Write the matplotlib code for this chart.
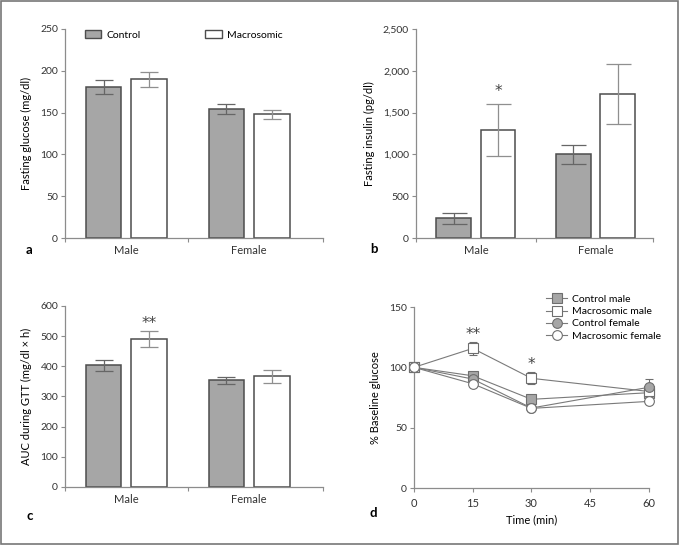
import matplotlib
matplotlib.use("Agg")
import matplotlib.pyplot as plt
from matplotlib.patches import Patch, Rectangle
from matplotlib.lines import Line2D

plt.rcParams["font.family"] = ["Lato", "DejaVu Sans"]
plt.rcParams["font.size"] = 7.5

# ---- data ----
groups = ["Male", "Female"]

glucose_ctrl = [181, 154]
glucose_ctrl_err = [8.5, 6]
glucose_macro = [190, 148]
glucose_macro_err = [9, 5.5]

insulin_ctrl = [235, 1000]
insulin_ctrl_err = [70, 115]
insulin_macro = [1290, 1720]
insulin_macro_err = [310, 360]

auc_ctrl = [403, 353]
auc_ctrl_err = [18, 11]
auc_macro = [490, 367]
auc_macro_err = [26, 22]

time_min = [0, 15, 30, 60]
ctrl_male = [100, 93, 73.5, 79]
ctrl_male_err = [1, 2, 2, 2]
macro_male = [100, 115.7, 90.9, 80]
macro_male_err = [1, 5.5, 5, 3]
ctrl_female = [100, 90.3, 66.3, 83.5]
ctrl_female_err = [1, 2, 2.5, 6.5]
macro_female = [100, 86.4, 66, 71.8]
macro_female_err = [1, 1.5, 2, 1.5]

GRAY = "#a6a6a6"
EDGE = "#4d4d4d"
AXC = "#8c8c8c"
LINE = "#7a7a7a"
LABEL_SIZE = 8
STAR = dict(ha="center", va="bottom", fontsize=11, color="#444444", family="DejaVu Sans")


def style_axes(ax):
    for s in ("top", "right"):
        ax.spines[s].set_visible(False)
    for s in ("left", "bottom"):
        ax.spines[s].set_color(AXC)
        ax.spines[s].set_linewidth(0.9)
    ax.tick_params(axis="both", which="both", direction="out", color=AXC,
                   length=3, width=0.8, labelcolor="#333333", pad=2, labelsize=7.5)


def bar_panel(ax, ctrl, ctrl_err, macro, macro_err, xmax, capsize):
    x = range(len(groups))
    off, w = 0.185, 0.29
    xc = [i - off for i in x]
    xm = [i + off for i in x]
    ax.bar(xc, ctrl, width=w, color=GRAY, edgecolor=EDGE, linewidth=1.1, zorder=2)
    ax.bar(xm, macro, width=w, color="white", edgecolor=EDGE, linewidth=1.1, zorder=2)
    ax.errorbar(xc, ctrl, yerr=ctrl_err, fmt="none", ecolor="#666666",
                elinewidth=0.9, capsize=capsize, capthick=0.9, zorder=3)
    ax.errorbar(xm, macro, yerr=macro_err, fmt="none", ecolor="#8f8f8f",
                elinewidth=0.9, capsize=capsize, capthick=0.9, zorder=3)
    ax.set_xlim(-0.5, xmax)
    ax.set_xticks(list(x))
    ax.set_xticklabels(groups)
    ax.set_xticks([-0.5, 0.5, xmax], minor=True)
    style_axes(ax)
    ax.tick_params(axis="x", which="major", length=0, pad=5, labelsize=8)


fig = plt.figure(figsize=(6.8, 5.46), dpi=100)

# a
ax_a = fig.add_axes([0.0956, 0.5641, 0.379, 0.3828])
bar_panel(ax_a, glucose_ctrl, glucose_ctrl_err, glucose_macro, glucose_macro_err, 1.6, 6.5)
ax_a.set_ylim(0, 250)
ax_a.set_yticks(range(0, 251, 50))
ax_a.set_ylabel("Fasting glucose (mg/dl)", labelpad=6, fontsize=LABEL_SIZE)
handles = [Patch(facecolor=GRAY, edgecolor=EDGE, linewidth=1.0, label="Control"),
           Patch(facecolor="white", edgecolor=EDGE, linewidth=1.0, label="Macrosomic")]
ax_a.legend(handles=handles, ncol=2, loc="upper left", bbox_to_anchor=(0.04, 1.04),
            frameon=False, columnspacing=6.2, handlelength=1.6, handleheight=0.8,
            handletextpad=0.5, fontsize=7.5)
fig.text(26 / 680, 1 - 250 / 546, "a", fontsize=9.5, fontweight="bold", va="center")

# b
ax_b = fig.add_axes([0.6118, 0.5641, 0.3485, 0.3828])
bar_panel(ax_b, insulin_ctrl, insulin_ctrl_err, insulin_macro, insulin_macro_err, 1.48, 9)
ax_b.set_ylim(0, 2500)
ax_b.set_yticks(range(0, 2501, 500))
ax_b.set_yticklabels([f"{v:,}" for v in range(0, 2501, 500)])
ax_b.set_ylabel("Fasting insulin (pg/dl)", labelpad=6, fontsize=LABEL_SIZE)
ax_b.text(0.185, 1660, "*", **STAR)
fig.text(370 / 680, 1 - 249 / 546, "b", fontsize=9.5, fontweight="bold", va="center")

# c
ax_c = fig.add_axes([0.0956, 0.1081, 0.379, 0.3315])
bar_panel(ax_c, auc_ctrl, auc_ctrl_err, auc_macro, auc_macro_err, 1.6, 6.5)
ax_c.set_ylim(0, 600)
ax_c.set_yticks(range(0, 601, 100))
ax_c.set_ylabel("AUC during GTT (mg/dl × h)", labelpad=6, fontsize=LABEL_SIZE)
ax_c.text(0.185, 518, "**", **STAR)
fig.text(26 / 680, 1 - 516 / 546, "c", fontsize=9.5, fontweight="bold", va="center")

# d
ax_d = fig.add_axes([0.6088, 0.1062, 0.3456, 0.3315])
series = [
    (ctrl_male, ctrl_male_err, "s", GRAY, "Control male"),
    (macro_male, macro_male_err, "s", "white", "Macrosomic male"),
    (ctrl_female, ctrl_female_err, "o", GRAY, "Control female"),
    (macro_female, macro_female_err, "o", "white", "Macrosomic female"),
]
for vals, errs, mk, fc, lab in series:
    ax_d.errorbar(time_min, vals, yerr=errs, color=LINE, linewidth=0.8,
                  marker=mk, markersize=7, markerfacecolor=fc, markeredgecolor="#6e6e6e",
                  markeredgewidth=0.8, ecolor="#6e6e6e", elinewidth=0.8, capsize=3,
                  capthick=0.8, label=lab, clip_on=False, zorder=3)
ax_d.set_xlim(0, 60)
ax_d.set_ylim(0, 150)
ax_d.set_xticks([0, 15, 30, 45, 60])
ax_d.set_yticks([0, 50, 100, 150])
style_axes(ax_d)
ax_d.tick_params(axis="x", labelsize=8, pad=4)
ax_d.set_xlabel("Time (min)", labelpad=4, fontsize=LABEL_SIZE)
ax_d.set_ylabel("% Baseline glucose", labelpad=6, fontsize=LABEL_SIZE)
ax_d.text(15, 121, "**", **STAR)
ax_d.text(30, 96, "*", **STAR)
leg_handles = [Line2D([0], [0], color=LINE, linewidth=0.8, marker=mk, markersize=7,
                      markerfacecolor=fc, markeredgecolor="#6e6e6e", markeredgewidth=0.8,
                      label=lab)
               for _, _, mk, fc, lab in series]
ax_d.legend(handles=leg_handles, loc="upper left", bbox_to_anchor=(0.52, 1.12),
            frameon=False, handlelength=2.1, handletextpad=0.4, labelspacing=0.28,
            fontsize=7.5)
fig.text(369 / 680, 1 - 513 / 546, "d", fontsize=9.5, fontweight="bold", va="center")

# frame around the figure
fig.patches.append(Rectangle((0.002, 0.003), 0.995, 0.995, transform=fig.transFigure,
                             fill=False, edgecolor="#777777", linewidth=1.2))

fig.savefig("out.png", dpi=100)
